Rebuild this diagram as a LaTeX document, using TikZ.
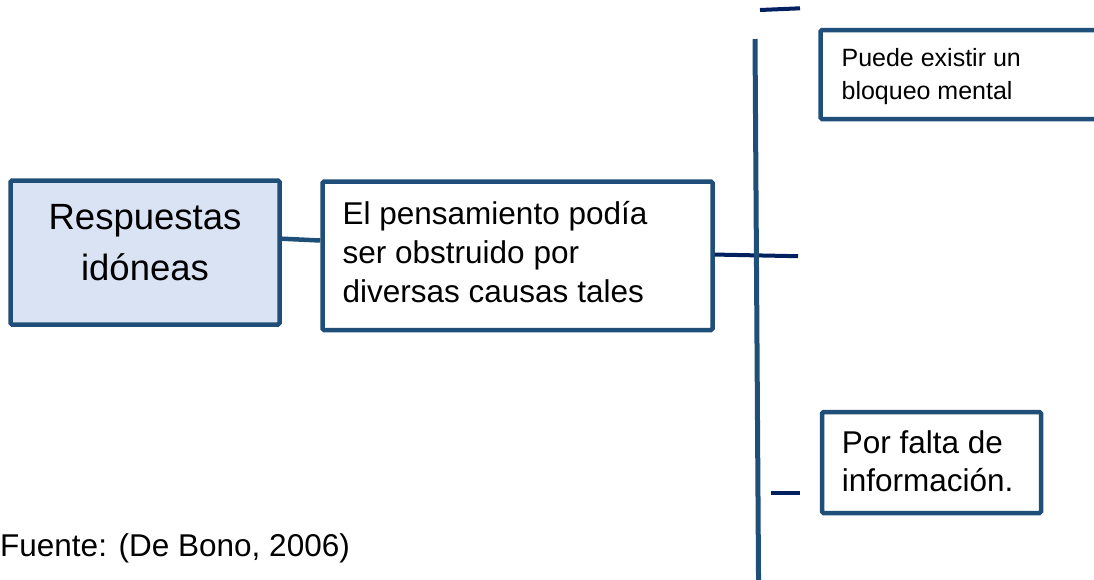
\documentclass[tikz,border=0pt]{standalone}
\usepackage{fontspec}
\setmainfont{Liberation Sans}
\definecolor{boxblue}{HTML}{1F4E79}
\definecolor{navy}{HTML}{002060}
\definecolor{lightfill}{HTML}{DAE3F3}
\begin{document}
\begin{tikzpicture}[x=1pt,y=-1pt,
  box/.style={draw=boxblue, line width=4.5pt, rounded corners=1.5pt, inner sep=0pt, fill=white},
  conn/.style={draw=boxblue, line width=4.5pt},
  navyline/.style={draw=navy, line width=4pt},
  vline/.style={draw=boxblue, line width=5pt},
  txtbig/.style={anchor=base, inner sep=0pt, font=\fontsize{36.5}{44}\selectfont},
  txtmid/.style={anchor=base west, inner sep=0pt, font=\fontsize{31.5}{38}\selectfont},
  txtsmall/.style={anchor=base west, inner sep=0pt, font=\fontsize{25}{30}\selectfont}]
\useasboundingbox (0,0) rectangle (1094,579);
\clip (0,0) rectangle (1094,579);
% coordinates for free ends
\coordinate (n2) at (798,256.2);
\coordinate (vtop) at (755,39);
\coordinate (vbot) at (758.6,590);
\coordinate (s1a) at (760,10);
\coordinate (s1b) at (800,8.3);
\coordinate (s4a) at (771,493);
\coordinate (s4b) at (799.7,493);
% boxes (geometry)
\path (145,252.5) node[box, fill=lightfill, minimum width=269pt, minimum height=144pt] (b1) {};
\path (517.5,255.75) node[box, minimum width=390pt, minimum height=148.5pt] (b2) {};
\path (960.25,74.5) node[box, minimum width=279.5pt, minimum height=89pt] (b3) {};
\path (931.5,462.5) node[box, minimum width=219pt, minimum height=101pt] (b4) {};
% connectors
\draw[conn] ([yshift=13.8pt]b1.east) -- ([yshift=15.25pt]b2.west);
\draw[navyline] ([yshift=1.2pt]b2.east) -- (n2);
\draw[navyline] (s1a) -- (s1b);
\draw[navyline] (s4a) -- (s4b);
\draw[vline] (vtop) -- (vbot);
% texts
\node[txtbig] (t1a) at (145,229.3) {Respuestas};
\node[txtbig] (t1b) at (145,280.7) {idóneas};
\node[txtmid] (t2a) at (342.5,224) {El pensamiento podía};
\node[txtmid] (t2b) at (342.5,263) {ser obstruido por};
\node[txtmid] (t2c) at (342.5,302) {diversas causas tales};
\node[txtsmall] (t3a) at (841.4,66) {Puede existir un};
\node[txtsmall] (t3b) at (841.4,99.3) {bloqueo mental};
\node[txtmid] (t4a) at (841.6,453.3) {Por falta de};
\node[txtmid] (t4b) at (841.6,491.7) {información.};
\node[txtmid] (src) at (0,556.7) {Fuente: (De Bono, 2006)};
\end{tikzpicture}
\end{document}
